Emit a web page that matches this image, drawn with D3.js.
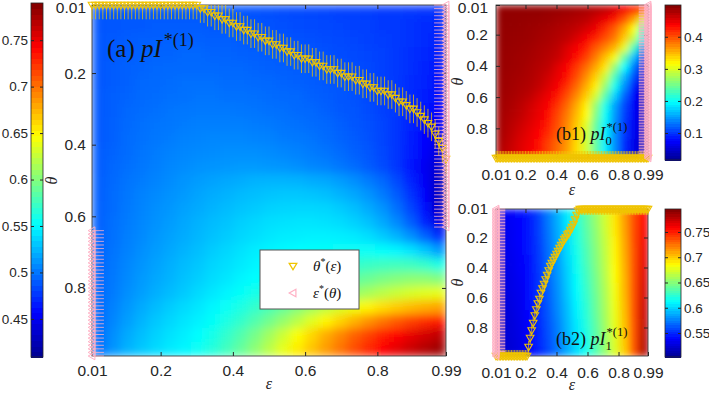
<!DOCTYPE html>
<html><head><meta charset="utf-8">
<script src="https://cdn.jsdelivr.net/npm/d3@7"></script>
<style>body{margin:0;background:#fff}svg{display:block}</style>
</head><body><svg id="c" width="709" height="395"></svg>
<script>
// ---------------- DATA ----------------
const grid01 = [0.01,0.02,0.03,0.04,0.05,0.06,0.07,0.08,0.09,0.10,0.11,0.12,0.13,0.14,0.15,0.16,0.17,0.18,0.19,0.20,
0.21,0.22,0.23,0.24,0.25,0.26,0.27,0.28,0.29,0.30,0.31,0.32,0.33,0.34,0.35,0.36,0.37,0.38,0.39,0.40,
0.41,0.42,0.43,0.44,0.45,0.46,0.47,0.48,0.49,0.50,0.51,0.52,0.53,0.54,0.55,0.56,0.57,0.58,0.59,0.60,
0.61,0.62,0.63,0.64,0.65,0.66,0.67,0.68,0.69,0.70,0.71,0.72,0.73,0.74,0.75,0.76,0.77,0.78,0.79,0.80,
0.81,0.82,0.83,0.84,0.85,0.86,0.87,0.88,0.89,0.90,0.91,0.92,0.93,0.94,0.95,0.96,0.97,0.98,0.99];

// heat-map cell centres
const cellsA = [0.03,0.07,0.11,0.15,0.19,0.23,0.27,0.30,0.34,0.38,0.42,0.46,0.50,0.54,0.58,0.62,0.66,0.70,0.74,0.77,0.81,0.85,0.89,0.93,0.97];
const cellsB = [0.04,0.10,0.16,0.22,0.29,0.35,0.41,0.47,0.53,0.59,0.65,0.71,0.78,0.84,0.90,0.96];

// (a) pI*(1): rows = theta (top->bottom), cols = epsilon
const valuesA = [
[.488,.489,.489,.490,.490,.490,.490,.490,.489,.489,.488,.487,.486,.485,.484,.483,.482,.481,.480,.479,.478,.477,.476,.475,.474],
[.488,.489,.490,.490,.491,.491,.491,.491,.490,.490,.489,.488,.487,.486,.485,.484,.483,.482,.481,.480,.478,.477,.475,.473,.471],
[.489,.490,.491,.492,.492,.493,.493,.493,.492,.492,.491,.490,.489,.488,.487,.486,.485,.484,.482,.481,.479,.477,.475,.472,.469],
[.489,.490,.492,.493,.494,.494,.495,.495,.494,.494,.493,.492,.491,.490,.489,.488,.487,.485,.484,.482,.480,.477,.474,.471,.467],
[.489,.491,.493,.494,.495,.496,.496,.496,.496,.495,.495,.494,.493,.492,.491,.490,.488,.487,.485,.483,.480,.477,.474,.470,.465],
[.489,.491,.493,.495,.496,.497,.498,.498,.498,.497,.497,.496,.495,.494,.493,.491,.490,.488,.486,.484,.481,.477,.473,.469,.463],
[.490,.492,.494,.496,.497,.498,.499,.500,.500,.499,.499,.498,.497,.496,.495,.493,.491,.489,.487,.484,.481,.477,.472,.467,.460],
[.490,.492,.495,.497,.498,.500,.501,.502,.502,.502,.501,.500,.499,.498,.496,.495,.493,.490,.488,.485,.481,.477,.471,.465,.457],
[.490,.493,.496,.498,.500,.501,.503,.504,.504,.504,.504,.503,.502,.500,.499,.497,.495,.492,.489,.486,.482,.476,.470,.462,.453],
[.490,.493,.497,.499,.501,.503,.505,.506,.507,.507,.507,.506,.505,.503,.502,.500,.497,.494,.491,.487,.482,.476,.468,.459,.448],
[.491,.494,.497,.500,.503,.505,.507,.508,.509,.510,.510,.510,.509,.507,.505,.503,.500,.497,.493,.489,.483,.476,.467,.455,.442],
[.491,.495,.498,.501,.504,.507,.509,.511,.512,.513,.514,.514,.513,.512,.510,.507,.505,.501,.497,.491,.485,.476,.465,.451,.436],
[.492,.496,.500,.503,.506,.509,.512,.515,.517,.519,.521,.523,.524,.524,.523,.521,.519,.515,.510,.503,.495,.484,.470,.453,.432],
[.492,.497,.501,.505,.508,.511,.514,.518,.521,.523,.526,.528,.530,.531,.531,.530,.528,.524,.519,.512,.503,.491,.475,.455,.430],
[.493,.497,.502,.506,.510,.513,.517,.520,.524,.527,.530,.532,.535,.536,.537,.537,.536,.533,.528,.521,.512,.499,.482,.460,.433],
[.493,.498,.503,.507,.511,.515,.519,.523,.527,.530,.534,.537,.540,.541,.542,.542,.541,.539,.535,.529,.520,.508,.492,.470,.445],
[.494,.499,.504,.508,.513,.517,.521,.525,.529,.533,.537,.540,.543,.545,.546,.547,.547,.546,.544,.540,.533,.524,.511,.494,.472],
[.494,.500,.505,.510,.515,.519,.524,.528,.533,.537,.541,.545,.548,.550,.552,.553,.554,.555,.555,.555,.553,.549,.542,.531,.515],
[.495,.501,.507,.512,.517,.522,.527,.531,.536,.540,.544,.548,.552,.555,.558,.561,.564,.567,.570,.573,.575,.576,.575,.571,.562],
[.496,.502,.508,.514,.519,.524,.529,.534,.539,.543,.548,.552,.557,.561,.566,.571,.576,.581,.587,.592,.597,.601,.604,.604,.600],
[.496,.503,.510,.516,.522,.527,.532,.538,.543,.548,.554,.560,.566,.572,.579,.586,.593,.600,.607,.614,.621,.627,.632,.636,.638],
[.497,.505,.513,.520,.527,.533,.538,.543,.549,.555,.562,.570,.579,.589,.600,.611,.622,.632,.642,.651,.659,.666,.672,.677,.681],
[.497,.507,.516,.524,.531,.537,.542,.547,.554,.562,.571,.582,.594,.607,.621,.636,.650,.663,.676,.688,.699,.709,.718,.726,.733],
[.498,.510,.520,.528,.535,.541,.546,.552,.560,.570,.582,.596,.612,.629,.646,.662,.678,.692,.706,.719,.731,.742,.751,.759,.766],
[.499,.512,.523,.531,.538,.544,.549,.556,.565,.576,.589,.604,.621,.638,.654,.669,.684,.699,.714,.728,.741,.752,.762,.771,.779]];

// (b1) pI0*(1)
const valuesB1 = [
[.490,.490,.490,.490,.490,.488,.487,.485,.482,.479,.474,.468,.456,.443,.425,.405],
[.490,.490,.489,.488,.487,.485,.482,.479,.475,.471,.459,.447,.428,.400,.363,.300],
[.489,.489,.488,.486,.484,.481,.477,.473,.467,.457,.446,.418,.395,.361,.318,.230],
[.489,.488,.487,.485,.482,.479,.474,.468,.456,.442,.422,.402,.381,.342,.289,.200],
[.488,.487,.485,.483,.479,.475,.469,.455,.442,.424,.398,.376,.352,.305,.228,.142],
[.487,.486,.484,.481,.477,.472,.465,.450,.433,.410,.380,.348,.313,.240,.166,.093],
[.487,.485,.483,.479,.474,.468,.453,.440,.414,.388,.360,.328,.265,.197,.132,.070],
[.486,.484,.481,.477,.471,.461,.448,.431,.403,.373,.340,.291,.229,.163,.111,.062],
[.485,.483,.479,.475,.467,.455,.442,.417,.389,.357,.324,.266,.204,.143,.090,.055],
[.484,.481,.476,.470,.458,.446,.428,.402,.374,.341,.297,.236,.176,.122,.077,.050],
[.483,.479,.472,.462,.451,.441,.415,.389,.358,.324,.267,.206,.152,.109,.073,.048],
[.482,.476,.469,.458,.448,.434,.406,.380,.350,.318,.257,.200,.148,.105,.073,.050],
[.481,.473,.464,.454,.444,.425,.401,.375,.343,.303,.245,.192,.143,.102,.070,.050],
[.480,.470,.459,.449,.438,.418,.397,.372,.339,.297,.240,.190,.143,.102,.070,.049],
[.477,.466,.455,.446,.432,.409,.389,.366,.334,.297,.243,.190,.143,.096,.065,.045],
[.474,.464,.454,.443,.429,.407,.386,.363,.332,.296,.243,.190,.143,.095,.067,.040]];

// (b2) pI1*(1)
const valuesB2 = [
[.535,.537,.541,.547,.558,.575,.590,.607,.624,.640,.656,.673,.693,.714,.737,.758],
[.534,.536,.540,.546,.557,.574,.589,.606,.623,.639,.655,.672,.692,.713,.737,.759],
[.533,.535,.540,.546,.557,.573,.588,.604,.621,.637,.653,.671,.691,.712,.737,.761],
[.532,.535,.539,.545,.556,.572,.587,.603,.620,.636,.652,.669,.689,.711,.737,.762],
[.532,.534,.538,.545,.555,.571,.585,.602,.618,.634,.650,.668,.688,.710,.736,.764],
[.531,.533,.537,.544,.555,.570,.584,.601,.617,.633,.649,.667,.687,.709,.736,.765],
[.530,.532,.537,.543,.554,.569,.583,.599,.616,.631,.648,.666,.686,.708,.736,.767],
[.529,.531,.536,.543,.553,.568,.582,.598,.614,.630,.646,.665,.685,.707,.736,.768],
[.528,.531,.535,.542,.553,.567,.581,.597,.613,.628,.645,.663,.683,.707,.736,.770],
[.527,.530,.534,.542,.552,.566,.580,.596,.611,.627,.643,.662,.682,.706,.736,.771],
[.526,.529,.534,.541,.551,.565,.579,.594,.610,.625,.642,.661,.681,.705,.736,.773],
[.525,.528,.533,.540,.551,.564,.578,.593,.609,.624,.641,.660,.680,.704,.736,.774],
[.525,.527,.532,.540,.550,.563,.576,.592,.607,.622,.639,.659,.679,.703,.735,.776],
[.524,.527,.531,.539,.549,.562,.575,.591,.606,.621,.638,.657,.677,.702,.735,.777],
[.523,.526,.530,.539,.549,.561,.574,.589,.604,.619,.636,.656,.676,.701,.735,.779],
[.522,.525,.530,.538,.548,.560,.573,.588,.603,.618,.635,.655,.675,.700,.735,.780]];

// optimal theta*(eps), indexed by grid01 (eps)
const thetaStarA = [0.01,0.01,0.01,0.01,0.01,0.01,0.01,0.01,0.01,0.01,0.01,0.01,0.01,0.01,0.01,0.01,0.01,0.01,0.01,0.01,
0.01,0.01,0.01,0.01,0.01,0.01,0.01,0.01,0.01,0.01,0.02,0.02,0.03,0.03,0.04,0.04,0.05,0.05,0.06,0.06,
0.07,0.07,0.08,0.08,0.09,0.09,0.10,0.10,0.11,0.11,0.12,0.12,0.13,0.13,0.14,0.14,0.15,0.15,0.16,0.16,
0.16,0.17,0.17,0.18,0.18,0.19,0.19,0.19,0.20,0.20,0.21,0.21,0.21,0.22,0.22,0.23,0.23,0.24,0.24,0.25,
0.25,0.25,0.26,0.26,0.27,0.28,0.28,0.29,0.30,0.30,0.31,0.32,0.33,0.34,0.35,0.37,0.39,0.41,0.44];
const thetaStarB1 = [0.99,0.99,0.99,0.99,0.99,0.99,0.99,0.99,0.99,0.99,0.99,0.99,0.99,0.99,0.99,0.99,0.99,0.99,0.99,0.99,
0.99,0.99,0.99,0.99,0.99,0.99,0.99,0.99,0.99,0.99,0.99,0.99,0.99,0.99,0.99,0.99,0.99,0.99,0.99,0.99,
0.99,0.99,0.99,0.99,0.99,0.99,0.99,0.99,0.99,0.99,0.99,0.99,0.99,0.99,0.99,0.99,0.99,0.99,0.99,0.99,
0.99,0.99,0.99,0.99,0.99,0.99,0.99,0.99,0.99,0.99,0.99,0.99,0.99,0.99,0.99,0.99,0.99,0.99,0.99,0.99,
0.99,0.99,0.99,0.99,0.99,0.99,0.99,0.99,0.99,0.99,0.99,0.99,0.99,0.99,0.99,0.99,0.99,0.99,0.99];
const thetaStarB2 = [0.99,0.99,0.99,0.99,0.99,0.99,0.99,0.99,0.99,0.99,0.99,0.99,0.99,0.99,0.99,0.99,0.99,0.99,0.99,0.99,
0.99,0.93,0.87,0.82,0.77,0.72,0.68,0.64,0.61,0.57,0.54,0.51,0.48,0.45,0.42,0.39,0.37,0.35,0.33,0.31,
0.29,0.27,0.25,0.23,0.21,0.20,0.18,0.17,0.15,0.13,0.11,0.08,0.05,0.02,0.01,0.01,0.01,0.01,0.01,0.01,
0.01,0.01,0.01,0.01,0.01,0.01,0.01,0.01,0.01,0.01,0.01,0.01,0.01,0.01,0.01,0.01,0.01,0.01,0.01,0.01,
0.01,0.01,0.01,0.01,0.01,0.01,0.01,0.01,0.01,0.01,0.01,0.01,0.01,0.01,0.01,0.01,0.01,0.01,0.01];
// optimal eps*(theta), indexed by grid01 (theta)
const epsStarA = [0.99,0.99,0.99,0.99,0.99,0.99,0.99,0.99,0.99,0.99,0.99,0.99,0.99,0.99,0.99,0.99,0.99,0.99,0.99,0.99,
0.99,0.99,0.99,0.99,0.99,0.99,0.99,0.99,0.99,0.99,0.99,0.99,0.99,0.99,0.99,0.99,0.99,0.99,0.99,0.99,
0.99,0.99,0.99,0.99,0.99,0.99,0.99,0.99,0.99,0.99,0.99,0.99,0.99,0.99,0.99,0.99,0.99,0.99,0.99,0.99,
0.99,0.99,0.99,0.01,0.01,0.01,0.01,0.01,0.01,0.01,0.01,0.01,0.01,0.01,0.01,0.01,0.01,0.01,0.01,0.01,
0.01,0.01,0.01,0.01,0.01,0.01,0.01,0.01,0.01,0.01,0.01,0.01,0.01,0.01,0.01,0.01,0.01,0.01,0.01];
const epsStarB1 = grid01.map(() => 0.99);
const epsStarB2 = grid01.map(() => 0.01);

const xTicks = [0.01,0.2,0.4,0.6,0.8,0.99];
const yTicks = [0.01,0.2,0.4,0.6,0.8];
const cbTicksA = [0.45,0.5,0.55,0.6,0.65,0.7,0.75];
const cbTicksB1 = [0.1,0.2,0.3,0.4];
const cbTicksB2 = [0.55,0.6,0.65,0.7,0.75];
const rangeA = [0.409,0.790], rangeB1 = [0.016,0.499], rangeB2 = [0.5025,0.7955];

// ---------------- DRAWING ----------------
const svg = d3.select("#c");
const defs = svg.append("defs");
const INK = "#262626";
const YEL = "#f0c400", PINK = "#ffb0c4";
const SANS = "'Liberation Sans', Arial, sans-serif";
const SERIF = "'Liberation Serif', 'Times New Roman', serif";
const jetPos = [0,0.125,0.375,0.625,0.875,1];
const jetCol = ["#00008f","#0000ff","#00ffff","#ffff00","#ff0000","#800000"];
function jet(r){ return d3.scaleLinear().domain(jetPos.map(p=>r[0]+p*(r[1]-r[0]))).range(jetCol).clamp(true); }

const triDown = "M-3.8,-2.7L3.8,-2.7L0,3.8Z";
const triLeft = "M2.9,-3.8L2.9,3.8L-3.8,0Z";

function panel(c){
  const x = d3.scaleLinear().domain([0.01,0.99]).range([c.x0,c.x1]);
  const y = d3.scaleLinear().domain([0.01,0.99]).range([c.y0,c.y1]);
  const bx = d3.scaleBand().domain(c.cells).range([c.x0,c.x1]);
  const by = d3.scaleBand().domain(c.cells).range([c.y0,c.y1]);
  const color = jet(c.range);
  const g = svg.append("g");
  const clipId = "clip"+c.id, filtId = "soft"+c.id;
  defs.append("clipPath").attr("id",clipId).append("rect")
    .attr("x",c.x0).attr("y",c.y0).attr("width",c.x1-c.x0).attr("height",c.y1-c.y0);
  defs.append("filter").attr("id",filtId).attr("x",0).attr("y",0).attr("width",1).attr("height",1)
    .append("feGaussianBlur").attr("stdDeviation",c.soft).attr("edgeMode","duplicate");
  const hm = g.append("g").attr("clip-path",`url(#${clipId})`)
    .append("g").attr("filter",`url(#${filtId})`);
  c.values.forEach((row,j)=>{
    hm.selectAll(null).data(row).enter().append("rect")
      .attr("x",(d,i)=>bx(c.cells[i])).attr("y",by(c.cells[j]))
      .attr("width",bx.bandwidth()+0.7).attr("height",by.bandwidth()+0.7)
      .attr("fill",d=>color(d));
  });
  // frame
  g.append("rect").attr("x",c.x0).attr("y",c.y0).attr("width",c.x1-c.x0).attr("height",c.y1-c.y0)
    .attr("fill","none").attr("stroke",INK).attr("stroke-width",0.8);
  const styleAxis = s => { s.select(".domain").remove(); s.selectAll("line").attr("stroke",INK);
    s.selectAll("text").attr("fill",INK).style("font-family",SANS).style("font-size","15.5px"); };
  g.append("g").attr("transform",`translate(0,${c.y1})`)
    .call(d3.axisBottom(x).tickValues(xTicks).tickFormat(d=>String(d)).tickSizeInner(-4).tickSizeOuter(0).tickPadding(c.xpad)).call(styleAxis);
  g.append("g").attr("transform",`translate(0,${c.y0})`)
    .call(d3.axisTop(x).tickValues(xTicks.slice(1,-1)).tickFormat("").tickSizeInner(-4).tickSizeOuter(0)).call(styleAxis);
  g.append("g").attr("transform",`translate(${c.x0},0)`)
    .call(d3.axisLeft(y).tickValues(yTicks).tickFormat(d=>String(d)).tickSizeInner(-4).tickSizeOuter(0).tickPadding(c.ypad)).call(styleAxis)
    .call(s => s.selectAll(".tick text").filter(d => d === 0.01).attr("y", c.topNudge));
  g.append("g").attr("transform",`translate(${c.x1},0)`)
    .call(d3.axisRight(y).tickValues(yTicks.slice(1)).tickFormat("").tickSizeInner(-4).tickSizeOuter(0)).call(styleAxis);
  // axis labels
  g.append("text").attr("x",(c.x0+c.x1)/2).attr("y",c.epsY).attr("text-anchor","middle")
    .style("font-family",SERIF).style("font-style","italic").style("font-size","16px").attr("fill",INK).text("ε");
  g.append("text").attr("transform",`translate(${c.thX},${(c.y0+c.y1)/2}) rotate(-90)`).attr("text-anchor","middle")
    .style("font-family",SERIF).style("font-style","italic").style("font-size","16px").attr("fill",INK).text("θ");
  // theta*(eps) series with vertical error bars
  const cl = v => Math.max(0.01, Math.min(0.99, v));
  const ys = c.thetaStar.map((t,i)=>({e:grid01[i],t}));
  g.append("g").selectAll("line").data(ys).enter().append("line")
    .attr("x1",d=>x(d.e)).attr("x2",d=>x(d.e))
    .attr("y1",d=>y(cl(d.t-c.thErr))).attr("y2",d=>y(cl(d.t+c.thErr)))
    .attr("stroke",YEL).attr("stroke-width",1).attr("stroke-opacity",0.75);
  // eps*(theta) series with horizontal error bars
  const ps = c.epsStar.map((e,i)=>({t:grid01[i],e}));
  g.append("g").selectAll("line").data(ps).enter().append("line")
    .attr("y1",d=>y(d.t)).attr("y2",d=>y(d.t))
    .attr("x1",d=>x(cl(d.e-c.epErr))).attr("x2",d=>x(cl(d.e+c.epErr)))
    .attr("stroke",PINK).attr("stroke-width",1).attr("stroke-opacity",0.8);
  g.append("g").selectAll("path").data(ys).enter().append("path")
    .attr("d",triDown).attr("transform",d=>`translate(${x(d.e)},${y(d.t)})`)
    .attr("fill","none").attr("stroke",YEL).attr("stroke-width",1.1);
  g.append("g").selectAll("path").data(ps).enter().append("path")
    .attr("d",triLeft).attr("transform",d=>`translate(${x(d.e)},${y(d.t)})`)
    .attr("fill","none").attr("stroke",PINK).attr("stroke-width",1);
  return {x,y,g};
}

function colorbar(c){
  const s = d3.scaleLinear().domain(c.range).range([c.y1,c.y0]);
  const color = jet(c.range);
  const g = svg.append("g");
  const n = 64, step = (c.range[1]-c.range[0])/n;
  g.append("g").attr("shape-rendering","crispEdges").selectAll("rect").data(d3.range(n)).enter().append("rect")
    .attr("x",c.x0).attr("width",c.w)
    .attr("y",k=>s(c.range[0]+(k+1)*step)).attr("height",k=>s(c.range[0]+k*step)-s(c.range[0]+(k+1)*step)+0.6)
    .attr("fill",k=>color(c.range[0]+(k+0.5)*step));
  g.append("rect").attr("x",c.x0).attr("y",c.y0).attr("width",c.w).attr("height",c.y1-c.y0)
    .attr("fill","none").attr("stroke",INK).attr("stroke-width",0.8);
  const ax = c.side==="left" ? d3.axisLeft(s) : d3.axisRight(s);
  g.append("g").attr("transform",`translate(${c.side==="left"?c.x0:c.x0+c.w},0)`)
    .call(ax.tickValues(c.ticks).tickFormat(d=>String(d)).tickSizeInner(-3).tickSizeOuter(0).tickPadding(3))
    .call(s2=>{ s2.select(".domain").remove(); s2.selectAll("line").attr("stroke",INK);
      s2.selectAll("text").attr("fill",INK).style("font-family",SANS).style("font-size","13.5px"); });
  g.append("g").attr("transform",`translate(${c.side==="left"?c.x0+c.w:c.x0},0)`)
    .call((c.side==="left"?d3.axisRight(s):d3.axisLeft(s)).tickValues(c.ticks).tickFormat("").tickSizeInner(-3).tickSizeOuter(0))
    .call(s2=>{ s2.select(".domain").remove(); s2.selectAll("line").attr("stroke",INK); });
}

colorbar({range:rangeA, ticks:cbTicksA, x0:31, w:12, y0:3, y1:357, side:"left"});
colorbar({range:rangeB1, ticks:cbTicksB1, x0:665, w:16, y0:5, y1:160, side:"right"});
colorbar({range:rangeB2, ticks:cbTicksB2, x0:665, w:16, y0:209, y1:357, side:"right"});

const pA = panel({id:"a", cells:cellsA, values:valuesA, range:rangeA, x0:92, x1:446, y0:5, y1:356, soft:5,
  thetaStar:thetaStarA, epsStar:epsStarA, thErr:0.04, epErr:0.033, xpad:9, ypad:6, epsY:389, thX:57, topNudge:2.5});
const pB1 = panel({id:"b1", cells:cellsB, values:valuesB1, range:rangeB1, x0:496, x1:648, y0:5, y1:158, soft:3.5,
  thetaStar:thetaStarB1, epsStar:epsStarB1, thErr:0.045, epErr:0.06, xpad:11, ypad:8, epsY:195, thX:463, topNudge:2.5});
const pB2 = panel({id:"b2", cells:cellsB, values:valuesB2, range:rangeB2, x0:496, x1:648, y0:209, y1:356, soft:3.5,
  thetaStar:thetaStarB2, epsStar:epsStarB2, thErr:0.04, epErr:0.06, xpad:11, ypad:8, epsY:390, thX:463, topNudge:0});

// panel labels
function mathLabel(xp, yp, tag, sub, size){
  const t = svg.append("text").attr("x",xp).attr("y",yp).attr("fill","#111")
    .style("font-family",SERIF).style("font-size",size+"px");
  t.append("tspan").text(tag+" ");
  t.append("tspan").style("font-style","italic").text("pI");
  if(sub!==null){
    t.append("tspan").style("font-size",(size*0.7)+"px").attr("dy",size*0.28).text(sub);
    t.append("tspan").style("font-size",(size*0.7)+"px").attr("dx",-size*0.3).attr("dy",-size*0.8).text("*(1)");
  } else {
    t.append("tspan").style("font-size",(size*0.72)+"px").attr("dx",2).attr("dy",-size*0.45).text("*(1)");
  }
}
mathLabel(107, 57, "(a)", null, 25);
mathLabel(556, 140, "(b1)", "0", 18);
mathLabel(556, 345, "(b2)", "1", 18);

// legend for (a)
const lg = svg.append("g");
lg.append("rect").attr("x",260).attr("y",250).attr("width",99).attr("height",59)
  .attr("fill","#fff").attr("stroke","#555").attr("stroke-width",1);
lg.append("path").attr("d",triDown).attr("transform","translate(293,266)").attr("fill","none").attr("stroke",YEL).attr("stroke-width",1.3);
lg.append("path").attr("d",triLeft).attr("transform","translate(293,293)").attr("fill","none").attr("stroke",PINK).attr("stroke-width",1.2);
function legText(yp, a, b){
  const t = lg.append("text").attr("x",313).attr("y",yp).attr("fill","#111").style("font-family",SERIF).style("font-size","15px");
  t.append("tspan").style("font-style","italic").text(a);
  t.append("tspan").style("font-size","10px").attr("dy",-6).text("*");
  t.append("tspan").attr("dy",6).text("(");
  t.append("tspan").style("font-style","italic").text(b);
  t.append("tspan").text(")");
}
legText(271, "θ", "ε");
legText(298, "ε", "θ");
</script></body></html>
